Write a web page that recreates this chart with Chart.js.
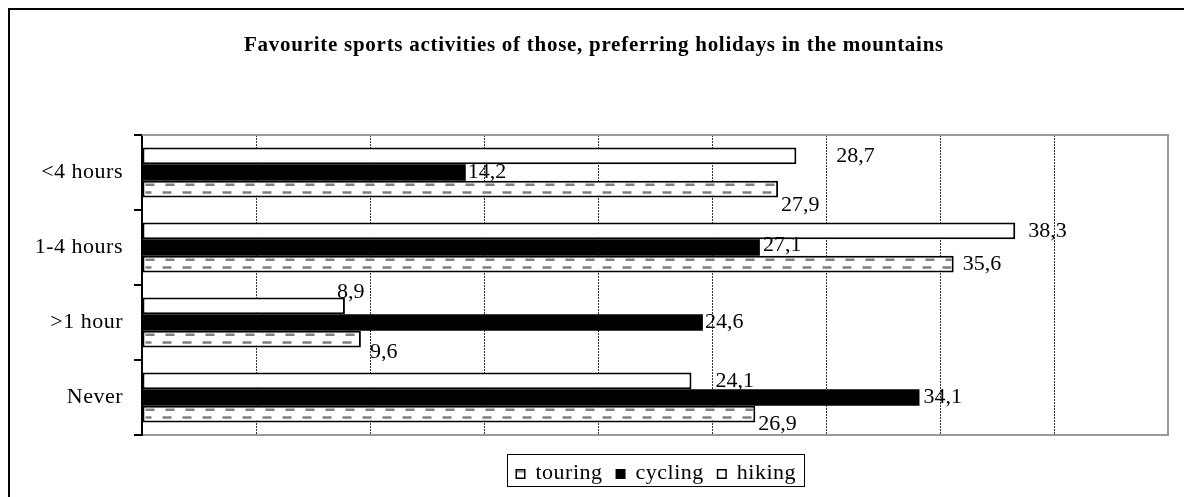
<!DOCTYPE html>
<html>
<head>
<meta charset="utf-8">
<script src="https://cdn.jsdelivr.net/npm/chart.js@4/dist/chart.umd.min.js"></script>
<style>
  body { margin: 0; background: #fff; }
  #wrap { width: 1184px; height: 497px; position: relative; }
</style>
</head>
<body>
<div id="wrap"><canvas id="sportsChart"></canvas></div>
<script>
// chart values
const chartTitle = 'Favourite sports activities of those, preferring holidays in the mountains';
const categories = ['<4 hours', '1-4 hours', '>1 hour', 'Never'];
const seriesNames = ['touring', 'cycling', 'hiking'];
const touring = [28.7, 38.3, 8.9, 24.1];
const cycling = [14.2, 27.1, 24.6, 34.1];
const hiking = [27.9, 35.6, 9.6, 26.9];
const axisMax = 45;
const axisStep = 5;

// where Excel dropped the value labels, relative to the bar end (dx, dy)
const labelNudge = [
    [[40, 0], [13, 0], [-8, -14], [24, 0]],
    [[2, 0], [3, -2], [2, 0], [4, 0]],
    [[3, 16], [9, 0], [9, 13], [3, 10]]
];

const SERIF = '"Liberation Serif", "Times New Roman", serif';

function fmt(v) {
    return v.toFixed(1).replace('.', ',');
}

const decorPlugin = {
    id: 'decor',
    beforeDraw(chart) {
        const ctx = chart.ctx;
        ctx.save();
        ctx.fillStyle = '#fff';
        ctx.fillRect(0, 0, chart.width, chart.height);
        ctx.restore();
        ctx.letterSpacing = '0.5px';
    },
    beforeDatasetsDraw(chart) {
        const ctx = chart.ctx;
        const a = chart.chartArea;
        ctx.save();
        ctx.strokeStyle = '#999';
        ctx.lineWidth = 2;
        ctx.beginPath();
        ctx.moveTo(a.left, a.top);
        ctx.lineTo(a.right, a.top);
        ctx.lineTo(a.right, a.bottom);
        ctx.stroke();
        ctx.restore();
    },
    afterDatasetsDraw(chart) {
        const ctx = chart.ctx;

        // dashed fill of the hiking bars
        chart.getDatasetMeta(2).data.forEach(bar => {
            const p = bar.getProps(['x', 'y', 'base', 'height'], true);
            const top = p.y - p.height / 2;
            ctx.save();
            ctx.beginPath();
            ctx.rect(p.base + 2, top + 2, p.x - p.base - 4, p.height - 4);
            ctx.clip();
            ctx.strokeStyle = '#808080';
            ctx.lineWidth = 2.5;
            ctx.setLineDash([9, 11]);
            [[top + 4, 0], [top + p.height - 5, 3]].forEach(([yy, off]) => {
                ctx.lineDashOffset = off;
                ctx.beginPath();
                ctx.moveTo(p.base + 3, yy);
                ctx.lineTo(p.x, yy);
                ctx.stroke();
            });
            ctx.restore();
        });

        // value labels
        ctx.save();
        ctx.font = '22px ' + SERIF;
        ctx.letterSpacing = '0px';
        ctx.fillStyle = '#000';
        ctx.textAlign = 'left';
        ctx.textBaseline = 'middle';
        chart.data.datasets.forEach((ds, di) => {
            chart.getDatasetMeta(di).data.forEach((bar, i) => {
                const p = bar.getProps(['x', 'y'], true);
                const n = labelNudge[di][i];
                ctx.fillText(fmt(ds.data[i]), p.x + n[0], p.y + n[1]);
            });
        });
        ctx.restore();
    },
    afterDraw(chart) {
        const ctx = chart.ctx;
        const a = chart.chartArea;
        ctx.save();

        // outer frame
        ctx.strokeStyle = '#000';
        ctx.lineWidth = 2;
        ctx.strokeRect(9, 9, chart.width + 20, chart.height + 20);

        // title
        ctx.font = 'bold 21px ' + SERIF;
        ctx.letterSpacing = '0px';
        const tw = ctx.measureText(chartTitle).width;
        ctx.letterSpacing = Math.max(0, (700 - tw) / chartTitle.length).toFixed(2) + 'px';
        ctx.fillStyle = '#000';
        ctx.textAlign = 'center';
        ctx.textBaseline = 'alphabetic';
        ctx.fillText(chartTitle, 594, 51);

        // legend
        ctx.font = '22px ' + SERIF;
        ctx.letterSpacing = '0.5px';
        ctx.textAlign = 'left';
        const mark = 10, gapText = 10, gapItem = 13, pad = 8;
        const widths = seriesNames.map(s => ctx.measureText(s).width);
        let total = 0;
        widths.forEach((w, i) => { total += mark + gapText + w + (i < widths.length - 1 ? gapItem : 0); });
        const boxW = Math.round(total + pad * 2);
        const boxX = Math.round((a.left + a.right) / 2 - boxW / 2) + 0.5;
        const boxY = 454.5;
        ctx.lineWidth = 1;
        ctx.strokeStyle = '#000';
        ctx.strokeRect(boxX, boxY, boxW, 32);
        let x = boxX + pad;
        const base = 479;
        seriesNames.forEach((s, i) => {
            if (i === 1) {
                ctx.fillStyle = '#000';
                ctx.fillRect(x, base - mark, mark, mark);
            } else {
                ctx.fillStyle = '#fff';
                ctx.fillRect(x, base - mark, mark, mark);
                ctx.strokeStyle = '#000';
                ctx.lineWidth = 1.5;
                ctx.strokeRect(x + 0.75, base - mark + 0.75, mark - 1.5, mark - 1.5);
                if (i === 0) {
                    ctx.fillStyle = '#888';
                    ctx.fillRect(x + 1.5, base - mark + 1.5, mark - 3, 2);
                }
            }
            ctx.fillStyle = '#000';
            ctx.fillText(s, x + mark + gapText, base);
            x += mark + gapText + widths[i] + gapItem;
        });
        ctx.restore();
    }
};

const ctx = document.getElementById('sportsChart').getContext('2d');
new Chart(ctx, {
    type: 'bar',
    data: {
        labels: categories,
        datasets: [
            {
                label: seriesNames[0],
                data: touring,
                backgroundColor: '#fff',
                borderColor: '#000',
                borderWidth: 2,
                borderSkipped: false
            },
            {
                label: seriesNames[1],
                data: cycling,
                backgroundColor: '#000',
                borderColor: '#000',
                borderWidth: 0
            },
            {
                label: seriesNames[2],
                data: hiking,
                backgroundColor: '#fff',
                borderColor: '#000',
                borderWidth: 2,
                borderSkipped: false
            }
        ]
    },
    options: {
        indexAxis: 'y',
        responsive: true,
        maintainAspectRatio: false,
        animation: false,
        categoryPercentage: 0.667,
        barPercentage: 1,
        layout: {
            padding: { top: 135, right: 16, bottom: 62, left: 0 }
        },
        plugins: {
            legend: { display: false },
            title: { display: false },
            tooltip: { enabled: false }
        },
        scales: {
            x: {
                min: 0,
                max: axisMax,
                ticks: { display: false, stepSize: axisStep },
                grid: {
                    drawTicks: false,
                    color: '#333',
                    lineWidth: 1
                },
                border: { display: true, color: '#999', width: 2, dash: [2, 1] }
            },
            y: {
                afterFit(scale) { scale.width = 142; },
                ticks: {
                    color: '#000',
                    font: { family: SERIF, size: 22 },
                    padding: 11
                },
                grid: {
                    offset: true,
                    drawOnChartArea: false,
                    drawTicks: true,
                    tickLength: 8,
                    color: '#000',
                    lineWidth: 2
                },
                border: { display: true, color: '#000', width: 2 }
            }
        }
    },
    plugins: [decorPlugin]
});
</script>
</body>
</html>
